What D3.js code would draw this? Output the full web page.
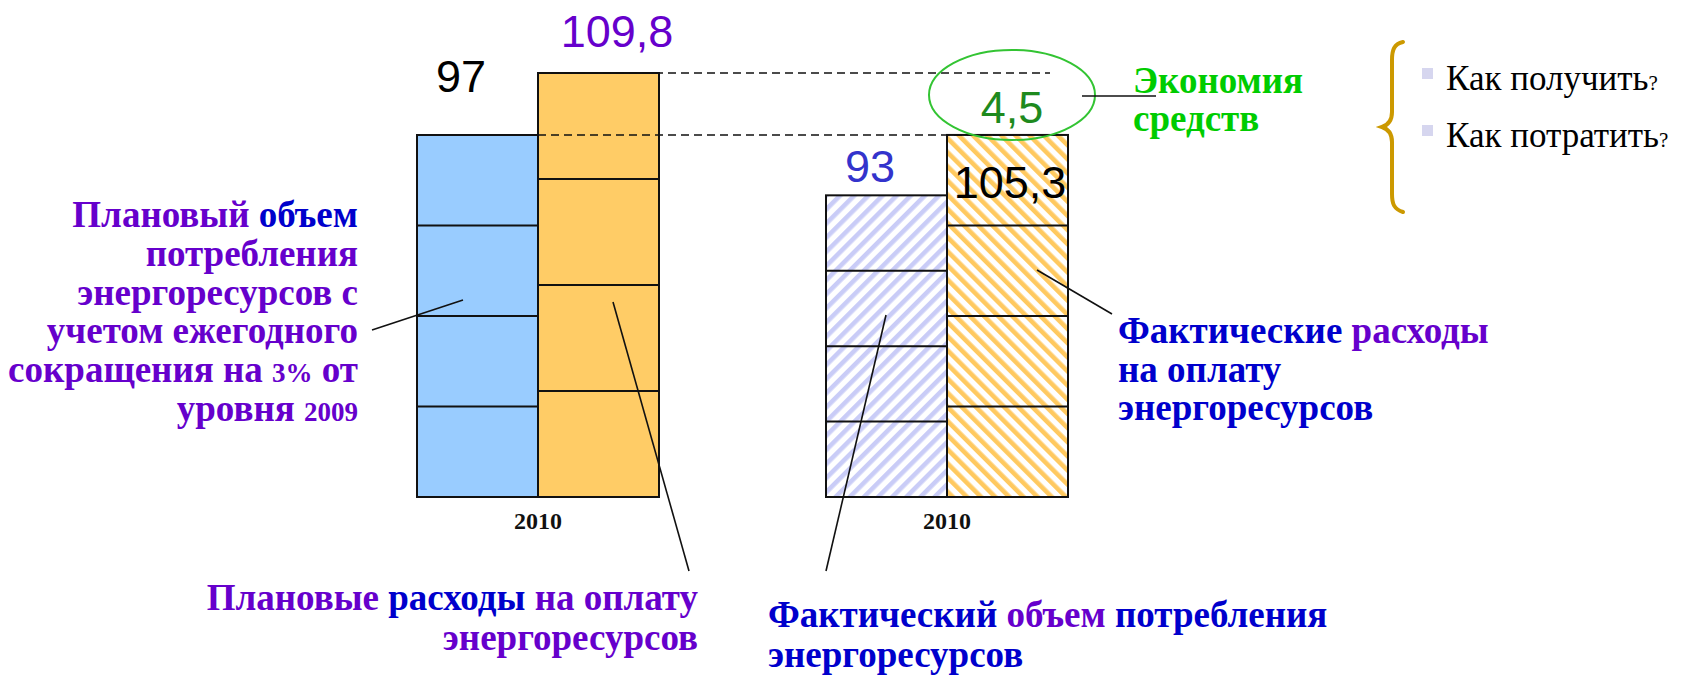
<!DOCTYPE html>
<html>
<head>
<meta charset="utf-8">
<script src="https://cdn.jsdelivr.net/npm/d3@7"></script>
<style>
  html, body { margin: 0; padding: 0; background: #fff; }
  svg { display: block; }
</style>
</head>
<body>
<svg id="chart" width="1687" height="676"></svg>
<script>
// ---- data ----
const categories = ["2010"];
const scenarios = ["План", "Факт"];
const volumeValues = [97, 93];        // объем потребления энергоресурсов
const costValues = [109.8, 105.3];    // расходы на оплату энергоресурсов
const segmentCount = 4;               // квартальное деление столбцов
const savingsValue = 4.5;             // экономия средств
const questions = ["Как получить", "Как потратить"];

const PURPLE = "#6600cc", BLUE = "#0000cc";
const svg = d3.select("#chart");
const fmt = v => String(v).replace(".", ",");

// ---- hatch patterns for the actual bars ----
const defs = svg.append("defs");
function hatch(id, color, angle) {
  const p = defs.append("pattern")
    .attr("id", id).attr("patternUnits", "userSpaceOnUse")
    .attr("width", 10).attr("height", 10)
    .attr("patternTransform", `rotate(${angle})`);
  p.append("rect").attr("width", 10).attr("height", 10).attr("fill", "#fff");
  p.append("rect").attr("x", 0).attr("width", 4.6).attr("height", 10).attr("fill", color);
}
hatch("hatchBlue", "#c9ccf7", 45);
hatch("hatchOrange", "#ffc960", -45);

// ---- scales ----
const xGroup = d3.scalePoint().domain(scenarios).range([538, 947]);
const xSeries = d3.scaleBand().domain(["volume", "cost"]).range([-121, 121]);
const yVolume = d3.scaleLinear().domain([73, 97]).range([497, 135]);
const yCost = d3.scaleLinear().domain([79, 109.8]).range([497, 73]);

const bars = [];
scenarios.forEach((s, i) => {
  bars.push({ scenario: s, series: "volume", value: volumeValues[i], y: yVolume,
              fill: i === 0 ? "#99ccff" : "url(#hatchBlue)" });
  bars.push({ scenario: s, series: "cost", value: costValues[i], y: yCost,
              fill: i === 0 ? "#ffcc66" : "url(#hatchOrange)" });
});

const barX = d => xGroup(d.scenario) + xSeries(d.series);
const barW = xSeries.bandwidth();

const gBars = svg.append("g");
gBars.selectAll("rect.bar").data(bars).join("rect")
  .attr("class", "bar")
  .attr("x", barX)
  .attr("y", d => d.y(d.value))
  .attr("width", barW)
  .attr("height", d => d.y(d.y.domain()[0]) - d.y(d.value))
  .attr("fill", d => d.fill)
  .attr("stroke", "#111").attr("stroke-width", 2);

// quarterly separators
bars.forEach(d => {
  const base = d.y(d.y.domain()[0]), top = d.y(d.value);
  d3.range(1, segmentCount).forEach(k => {
    const yy = top + (base - top) * k / segmentCount;
    gBars.append("line")
      .attr("x1", barX(d)).attr("x2", barX(d) + barW)
      .attr("y1", yy).attr("y2", yy)
      .attr("stroke", "#111").attr("stroke-width", 2);
  });
});

// category labels under each pair
scenarios.forEach(s => {
  svg.append("text")
    .attr("x", xGroup(s)).attr("y", 529)
    .attr("text-anchor", "middle")
    .attr("font-family", "'Liberation Serif', 'Times New Roman', serif")
    .attr("font-weight", "bold").attr("font-size", 24)
    .attr("fill", "#111")
    .text(categories[0]);
});

// dashed reference lines at both cost levels
const dashes = [
  { y: yCost(costValues[0]), x2: 1050 },
  { y: yCost(costValues[1]), x2: 1020 }
];
svg.selectAll("line.dash").data(dashes).join("line")
  .attr("class", "dash")
  .attr("x1", xGroup(scenarios[0])).attr("x2", d => d.x2)
  .attr("y1", d => d.y).attr("y2", d => d.y)
  .attr("stroke", "#111").attr("stroke-width", 1.6)
  .attr("stroke-dasharray", "8,5");

// value labels
const valueLabels = [
  { text: fmt(volumeValues[0]), x: xGroup(scenarios[0]) - 77, y: yVolume(volumeValues[0]) - 43, color: "#000" },
  { text: fmt(costValues[0]), x: xGroup(scenarios[0]) + 79, y: yCost(costValues[0]) - 26, color: PURPLE },
  { text: fmt(volumeValues[1]), x: xGroup(scenarios[1]) - 77, y: yVolume(volumeValues[1]) - 13, color: "#3333cc" },
  { text: fmt(costValues[1]), x: xGroup(scenarios[1]) + 63, y: yCost(costValues[1]) + 63, color: "#000" }
];
svg.selectAll("text.val").data(valueLabels).join("text")
  .attr("class", "val")
  .attr("x", d => d.x).attr("y", d => d.y)
  .attr("text-anchor", "middle")
  .attr("font-family", "'Liberation Sans', Arial, sans-serif")
  .attr("font-size", 45)
  .attr("fill", d => d.color)
  .text(d => d.text);

// savings callout
const savY = (yCost(costValues[0]) + yCost(costValues[1])) / 2;
svg.append("ellipse")
  .attr("cx", 1012).attr("cy", savY - 9).attr("rx", 83).attr("ry", 45)
  .attr("fill", "none").attr("stroke", "#33c433").attr("stroke-width", 2);
svg.append("text")
  .attr("x", 1012).attr("y", savY + 19)
  .attr("text-anchor", "middle")
  .attr("font-family", "'Liberation Sans', Arial, sans-serif")
  .attr("font-size", 45).attr("fill", "#1e8a1e")
  .text(fmt(savingsValue));
svg.append("line")
  .attr("x1", 1082).attr("x2", 1156).attr("y1", 96).attr("y2", 96)
  .attr("stroke", "#111").attr("stroke-width", 1.6);

// ---- annotation text ----
const serifBold = sel => sel
  .attr("font-family", "'Liberation Serif', 'Times New Roman', serif")
  .attr("font-weight", "bold").attr("font-size", 37);

function richText(x, y, anchor, parts, lineStep) {
  parts.forEach((line, li) => {
    const t = svg.append("text")
      .attr("x", x).attr("y", y + li * lineStep)
      .attr("text-anchor", anchor)
      .call(serifBold);
    line.forEach(p => {
      const ts = t.append("tspan").attr("fill", p.c).text(p.t);
      if (p.s) ts.attr("font-size", p.s);
    });
  });
}

richText(358, 227, "end", [
  [{ t: "Плановый ", c: PURPLE }, { t: "объем", c: BLUE }],
  [{ t: "потребления", c: PURPLE }],
  [{ t: "энергоресурсов с", c: PURPLE }],
  [{ t: "учетом ежегодного", c: PURPLE }],
  [{ t: "сокращения на ", c: PURPLE }, { t: "3%", c: PURPLE, s: 27 }, { t: " от", c: PURPLE }],
  [{ t: "уровня ", c: PURPLE }, { t: "2009", c: PURPLE, s: 27 }]
], 38.8);

richText(698, 610, "end", [
  [{ t: "Плановые ", c: PURPLE }, { t: "расходы", c: BLUE }, { t: " на оплату", c: PURPLE }],
  [{ t: "энергоресурсов", c: PURPLE }]
], 40);

richText(768, 627, "start", [
  [{ t: "Фактический ", c: BLUE }, { t: "объем", c: PURPLE }, { t: " потребления", c: BLUE }],
  [{ t: "энергоресурсов", c: BLUE }]
], 40);

richText(1118, 343, "start", [
  [{ t: "Фактические ", c: BLUE }, { t: "расходы", c: PURPLE }],
  [{ t: "на оплату", c: BLUE }],
  [{ t: "энергоресурсов", c: BLUE }]
], 38.5);

richText(1133, 93, "start", [
  [{ t: "Экономия", c: "#00cc00" }],
  [{ t: "средств", c: "#00cc00" }]
], 38);

// leader lines from captions to bars
const leaders = [
  [[372, 330], [463, 300]],
  [[613, 302], [689, 571]],
  [[886, 315], [826, 571]],
  [[1037, 270], [1112, 314]]
];
svg.selectAll("line.leader").data(leaders).join("line")
  .attr("class", "leader")
  .attr("x1", d => d[0][0]).attr("y1", d => d[0][1])
  .attr("x2", d => d[1][0]).attr("y2", d => d[1][1])
  .attr("stroke", "#111").attr("stroke-width", 1.6);

// ---- brace with questions ----
svg.append("path")
  .attr("d", "M1403,42 C1394,44 1392,50 1392,60 L1392,112 C1392,121 1388,125 1382,127 C1388,129 1392,133 1392,142 L1392,194 C1392,204 1394,209 1403,212")
  .attr("fill", "none").attr("stroke", "#cc9900").attr("stroke-width", 4)
  .attr("stroke-linecap", "round");

questions.forEach((q, i) => {
  const y = 90 + i * 57;
  svg.append("rect")
    .attr("x", 1422).attr("y", y - 22).attr("width", 11).attr("height", 11)
    .attr("fill", "#d6d6ef");
  const t = svg.append("text")
    .attr("x", 1446).attr("y", y)
    .attr("font-family", "'Liberation Serif', 'Times New Roman', serif")
    .attr("font-size", 35).attr("fill", "#000");
  t.append("tspan").text(q);
  t.append("tspan").attr("font-size", 21).text("?");
});
</script>
</body>
</html>
